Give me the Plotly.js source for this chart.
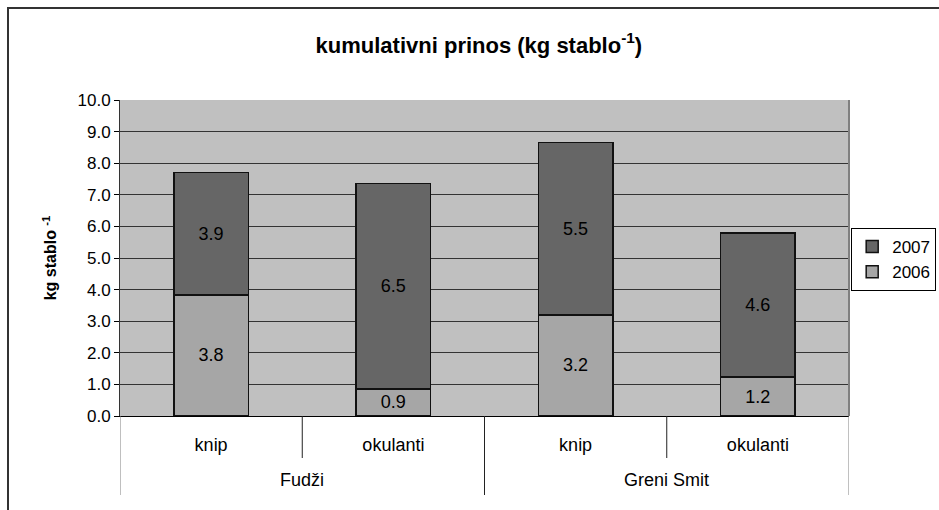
<!DOCTYPE html>
<html>
<head>
<meta charset="utf-8">
<script src="https://cdn.plot.ly/plotly-3.0.1.min.js"></script>
<style>
html,body{margin:0;padding:0;background:#fff;}
#wrap{position:relative;width:939px;height:510px;overflow:hidden;}
#chart{width:939px;height:510px;}
#frame{position:absolute;left:7px;top:7px;width:940px;height:520px;border-left:2px solid #333;border-top:2px solid #333;pointer-events:none;}
</style>
</head>
<body>
<div id="wrap"><div id="chart"></div><div id="frame"></div></div>
<script>
const varieties = ["Fudži", "Fudži", "Greni Smit", "Greni Smit"];
const types = ["knip", "okulanti", "knip", "okulanti"];
const y2006 = [3.83, 0.86, 3.2, 1.23];
const y2007 = [3.87, 6.49, 5.46, 4.56];
const yTicks = [0, 1, 2, 3, 4, 5, 6, 7, 8, 9, 10];

const font = "Liberation Sans, Arial, sans-serif";
const idx = types.map((_, i) => i);

const common = {
  type: "bar",
  x: idx,
  texttemplate: "%{y:.1f}",
  textposition: "inside",
  insidetextanchor: "middle",
  constraintext: "none",
  textfont: {family: font, size: 18, color: "#000"},
  hoverinfo: "skip"
};
const traces = [
  Object.assign({}, common, {name: "2006", y: y2006, marker: {color: "#a6a6a6", line: {color: "#111", width: 1.5}}}),
  Object.assign({}, common, {name: "2007", y: y2007, marker: {color: "#666666", line: {color: "#111", width: 1.5}}})
];

// category separators and group labels (from the category arrays)
const plotH = 510 - 100 - 94;
const innerDrop = -42 / plotH;
const outerDrop = -79 / plotH;
const shapes = [];
const annotations = [];
for (let i = 0; i <= idx.length; i++) {
  const edge = (i === 0 || i === idx.length);
  const groupChange = edge || varieties[i] !== varieties[i - 1];
  shapes.push({type: "line", xref: "x", yref: "paper", x0: i - 0.5, x1: i - 0.5, y0: 0, y1: groupChange ? outerDrop : innerDrop,
    line: {color: edge ? "#808080" : "#222", width: 1}});
}
const groups = [...new Set(varieties)];
groups.forEach(g => {
  const members = idx.filter(i => varieties[i] === g);
  const center = members.reduce((a, b) => a + b, 0) / members.length;
  annotations.push({xref: "x", yref: "paper", x: center, y: -64 / plotH, text: g, showarrow: false,
    xanchor: "center", yanchor: "middle", font: {family: font, size: 18, color: "#000"}});
});
shapes.push({type: "line", xref: "paper", yref: "paper", x0: 1, x1: 1, y0: 0, y1: 1, line: {color: "#808080", width: 2}});

const layout = {
  width: 939, height: 510,
  margin: {l: 120, r: 90, t: 100, b: 94, autoexpand: false},
  paper_bgcolor: "#fff",
  plot_bgcolor: "#c0c0c0",
  barmode: "stack",
  bargap: 0.59,
  showlegend: true,
  font: {family: font, size: 17, color: "#000"},
  title: {text: "<b>kumulativni prinos (kg stablo<sup>-1</sup>)</b>", x: 0.51, xanchor: "center", y: 0.912, yanchor: "middle", font: {family: font, size: 22, color: "#000"}},
  legend: {x: 1.003, xanchor: "left", y: 0.595, yanchor: "top", traceorder: "reversed", bordercolor: "#000", borderwidth: 1, bgcolor: "#fff",
    itemwidth: 30, font: {family: font, size: 17}},
  xaxis: {
    range: [-0.5, idx.length - 0.5],
    tickmode: "array", tickvals: idx, ticktext: types,
    showline: true, linecolor: "#000", linewidth: 1,
    ticks: "", ticklabelstandoff: 12,
    tickfont: {family: font, size: 18, color: "#000"},
    showgrid: false, zeroline: false
  },
  yaxis: {
    range: [0, 10], tickvals: yTicks, tickformat: ".1f",
    showline: true, linecolor: "#333", linewidth: 1,
    ticks: "outside", ticklen: 5, tickcolor: "#000",
    showgrid: true, gridcolor: "#333", gridwidth: 1,
    zeroline: false,
    tickfont: {family: font, size: 17, color: "#000"},
    title: {text: "<b>kg stablo <sup>-1</sup></b>", font: {family: font, size: 16, color: "#000"}, standoff: 16}
  },
  shapes: shapes,
  annotations: annotations
};

Plotly.newPlot("chart", traces, layout, {displayModeBar: false, staticPlot: true});
</script>
</body>
</html>
